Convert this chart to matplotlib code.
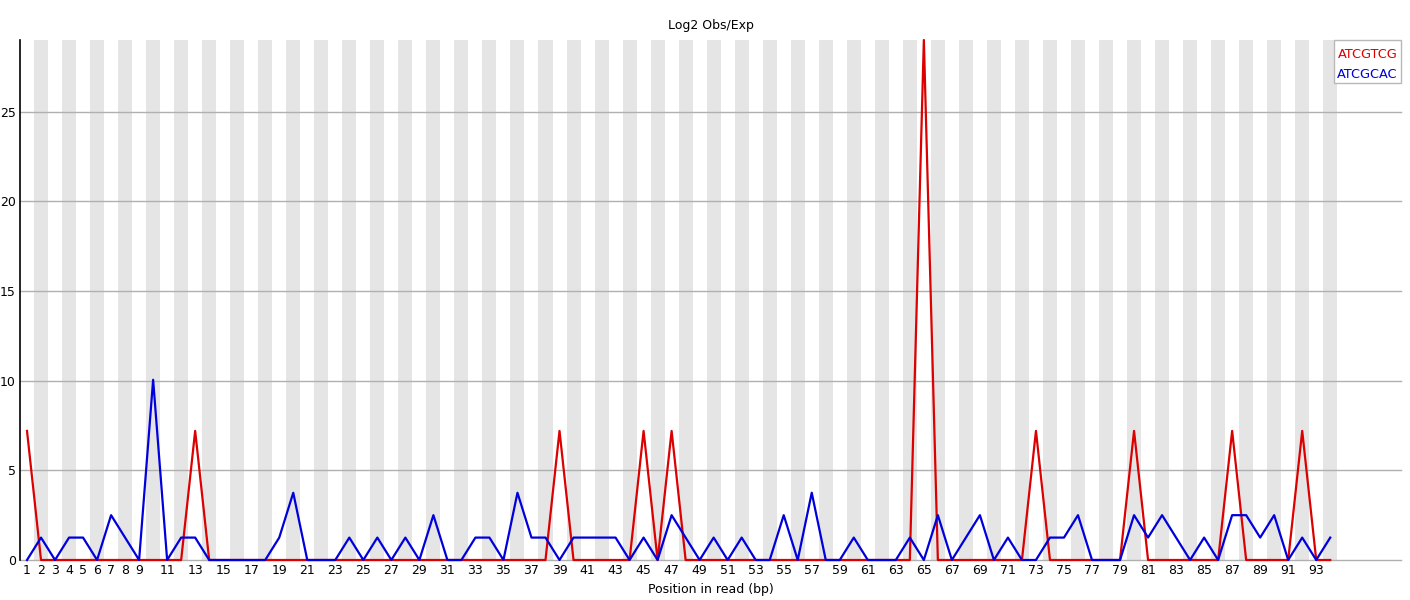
import matplotlib.pyplot as plt
import numpy as np

# Kmer content, log2 obs/exp per position
positions = list(range(1, 95))

atcgtcg = [0.0] * 94
for p, v in [(1, 7.2), (13, 7.2), (39, 7.2), (45, 7.2), (47, 7.2), (65, 29.0),
             (73, 7.2), (80, 7.2), (87, 7.2), (92, 7.2)]:
    atcgtcg[p - 1] = v

atcgcac = [
    0, 1.25, 0, 1.25, 1.25, 0, 2.5, 1.25, 0, 10.05,
    0, 1.25, 1.25, 0, 0, 0, 0, 0, 1.25, 3.75,
    0, 0, 0, 1.25, 0, 1.25, 0, 1.25, 0, 2.5,
    0, 0, 1.25, 1.25, 0, 3.75, 1.25, 1.25, 0, 1.25,
    1.25, 1.25, 1.25, 0, 1.25, 0, 2.5, 1.25, 0, 1.25,
    0, 1.25, 0, 0, 2.5, 0, 3.75, 0, 0, 1.25,
    0, 0, 0, 1.25, 0, 2.5, 0, 1.25, 2.5, 0,
    1.25, 0, 0, 1.25, 1.25, 2.5, 0, 0, 0, 2.5,
    1.25, 2.5, 1.25, 0, 1.25, 0, 2.5, 2.5, 1.25, 2.5,
    0, 1.25, 0, 1.25,
]

tick_pos = list(range(1, 10)) + list(range(11, 94, 2))
y_ticks = [0, 5, 10, 15, 20, 25]
series_names = ["ATCGTCG", "ATCGCAC"]
series_colors = ["#dc0000", "#0000dc"]

fig = plt.figure(figsize=(14.1, 6), dpi=100)
ax = fig.add_axes([20 / 1410, 40 / 600, 1381 / 1410, 520 / 600])

# alternating grey bands on even positions
for p in positions:
    if p % 2 == 0:
        ax.axvspan(p - 0.5, p + 0.5, color="#e5e5e5", lw=0, zorder=0)

for y in y_ticks:
    ax.axhline(y, color="#b0b0b0", lw=1.0, zorder=1, clip_on=False)

ax.plot(positions, atcgtcg, color=series_colors[0], lw=1.6, zorder=3, clip_on=False)
ax.plot(positions, atcgcac, color=series_colors[1], lw=1.6, zorder=4, clip_on=False)

ax.set_xlim(0.5, 99.05)
ax.set_ylim(0, 29.0)
ax.set_xticks(tick_pos)
ax.set_xticklabels([str(t) for t in tick_pos], fontsize=9)
ax.set_yticks(y_ticks)
ax.set_yticklabels([str(t) for t in y_ticks], fontsize=9)
ax.tick_params(length=0, pad=3)

for side in ["top", "right", "bottom"]:
    ax.spines[side].set_visible(False)
ax.spines["left"].set_linewidth(1.2)

ax.set_title("Log2 Obs/Exp", fontsize=9, pad=8)
ax.set_xlabel("Position in read (bp)", fontsize=9, labelpad=4)

# legend box with coloured text
leg_x0 = 1334 / 1410
leg_y0 = (600 - 83) / 600
fig.patches.append(plt.Rectangle((leg_x0, leg_y0), 67 / 1410, 43 / 600,
                                 transform=fig.transFigure, facecolor="white",
                                 edgecolor="#b8b8b8", lw=1.0, zorder=5))
for i, (name, col) in enumerate(zip(series_names, series_colors)):
    fig.text(1367.5 / 1410, (600 - 55 - 20 * i) / 600, name, color=col,
             fontsize=9.3, ha="center", va="center", zorder=6)

fig.savefig("out.png", dpi=100)
